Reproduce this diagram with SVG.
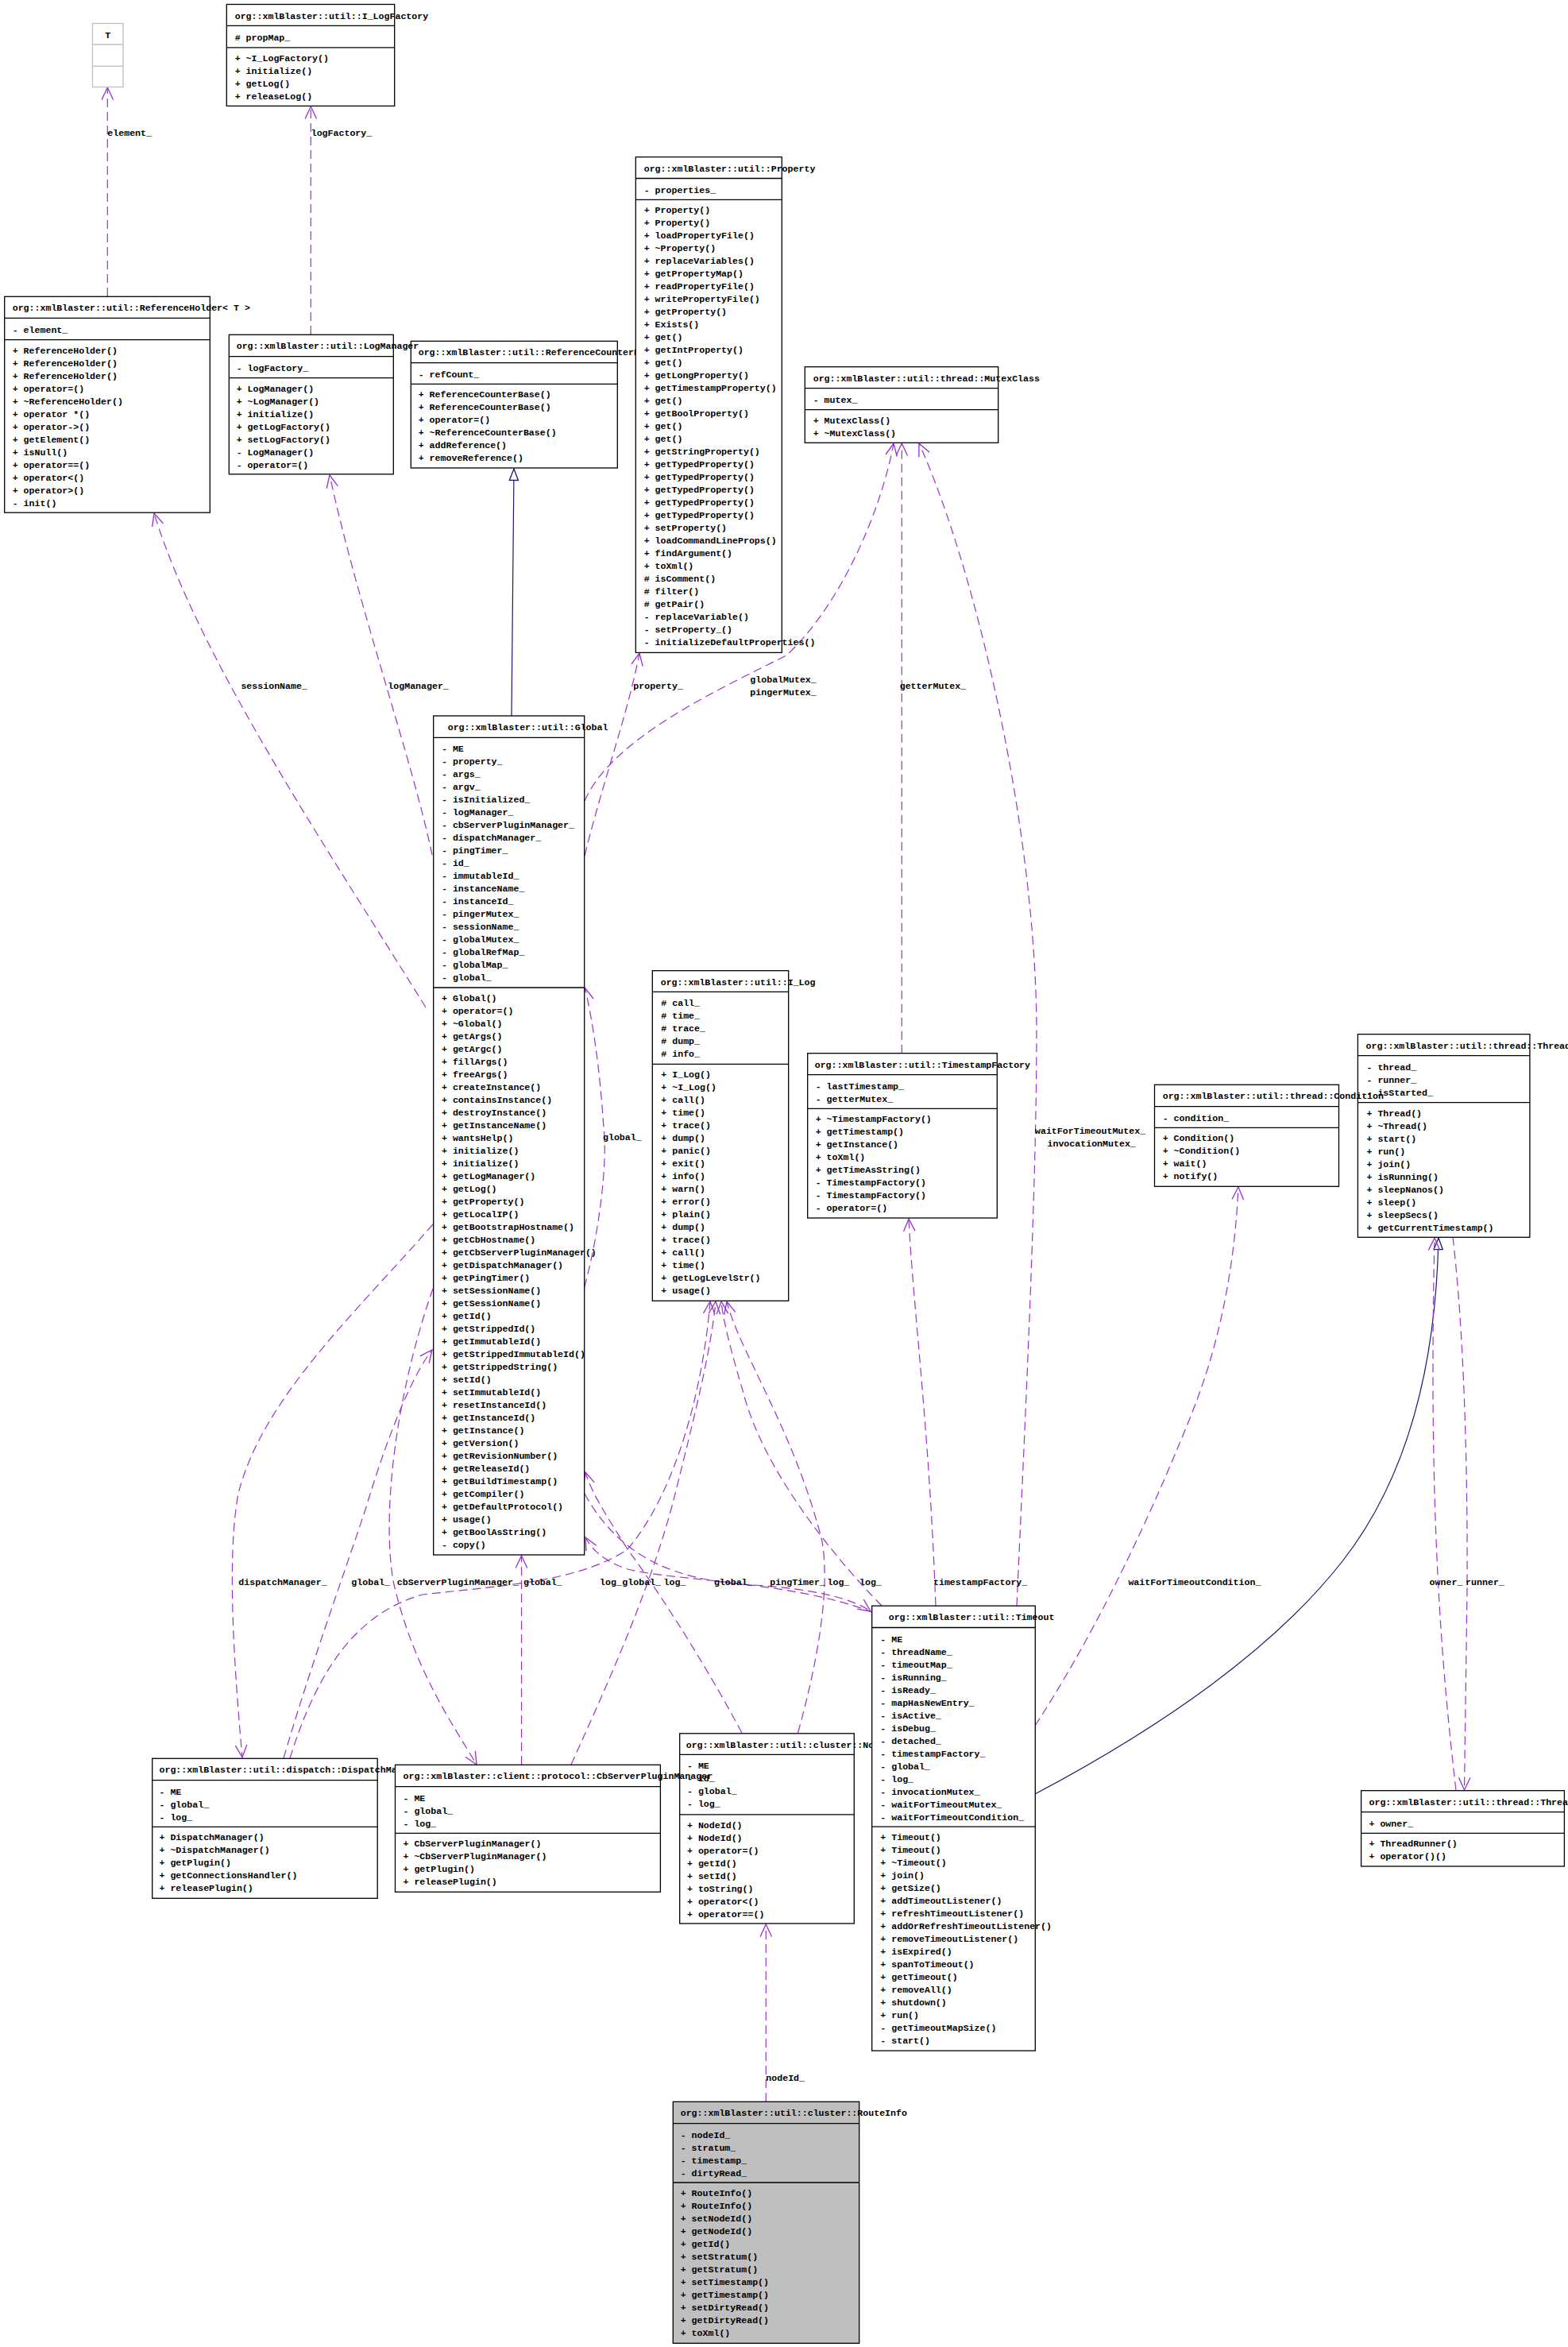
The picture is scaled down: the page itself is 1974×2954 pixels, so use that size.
<svg xmlns="http://www.w3.org/2000/svg" width="1974" height="2954" viewBox="0 0 1974 2954">
<style>
text{font-family:"Liberation Mono","DejaVu Sans Mono",monospace;font-size:11.6px;font-weight:bold;fill:#000}
.b{fill:#fff;stroke:#000;stroke-width:1.3}
.g{fill:#bfbfbf;stroke:#000;stroke-width:1.3}
.gb{fill:#fff;stroke:#bfbfbf;stroke-width:1.3}
.s{stroke:#000;stroke-width:1.3}
.sg{stroke:#bfbfbf;stroke-width:1.3}
.e{fill:none;stroke:#9a32cd;stroke-width:1.2;stroke-dasharray:11,6;marker-end:url(#a)}
.n{fill:none;stroke:#191970;stroke-width:1.2;marker-end:url(#i)}
</style>
<defs>
<marker id="a" markerUnits="userSpaceOnUse" markerWidth="20" markerHeight="20" viewBox="-16 -8 18 16" refX="0" refY="0" orient="auto"><path d="M-14,-6.5 L0,0 L-14,6.5" fill="none" stroke="#9a32cd" stroke-width="1.2"/></marker>
<marker id="i" markerUnits="userSpaceOnUse" markerWidth="20" markerHeight="20" viewBox="-16 -8 18 16" refX="0" refY="0" orient="auto"><path d="M-13,-5 L0,0 L-13,5 Z" fill="#fff" stroke="#191970" stroke-width="1.2"/></marker>
</defs>
<rect width="1974" height="2954" fill="#fff"/>
<g id="connectors">
<path class="e" d="M135.3,373 L135.3,110"/>
<path class="e" d="M391.3,421 L391.3,134"/>
<path class="e" d="M536,1268 C420,1080 250,830 194,646"/>
<path class="e" d="M544,1076 C520,960 450,760 415,598"/>
<path class="n" d="M644,901 L647,590"/>
<path class="e" d="M736,1077 C760,980 790,900 805,822"/>
<path class="e" d="M736,1008 C770,930 900,870 990,825 C1060,760 1110,640 1125,558"/>
<path class="e" d="M1135.3,1325.7 L1135.3,558"/>
<path class="e" d="M1280,2021 C1290,1800 1305,1500 1305,1300 C1305,1050 1230,720 1157,558"/>
<path class="e" d="M735.7,1620 C755,1550 765,1460 760,1420 C755,1340 745,1280 736.5,1243.5"/>
<path class="e" d="M1178,2021 C1170,1800 1150,1650 1144,1534"/>
<path class="n" d="M1303,2258 C1450,2180 1600,2080 1690,1965 C1780,1850 1808,1700 1811,1558"/>
<path class="e" d="M1303,2172 C1370,2070 1440,1930 1500,1780 C1540,1680 1555,1580 1559,1494"/>
<path class="e" d="M1833,2253 C1815,2100 1798,1900 1806,1558"/>
<path class="e" d="M1829,1557 C1840,1650 1848,1800 1847,2000 L1843.5,2253"/>
<path class="e" d="M964.3,2645 L964.3,2422"/>
<path class="e" d="M545,1541 C450,1650 330,1760 300,1880 C285,1960 295,2100 305,2212"/>
<path class="e" d="M357,2213 C390,2100 430,1990 460,1900 C490,1800 520,1730 544,1699"/>
<path class="e" d="M365,2213 C400,2100 450,2030 532,2007 C640,1995 730,1990 790,1950 C850,1880 885,1750 894,1638"/>
<path class="e" d="M545,1622 C500,1750 480,1900 495,1990 C520,2100 570,2170 600,2221"/>
<path class="e" d="M656.5,2221 L656.5,1958"/>
<path class="e" d="M719,2221 C760,2130 820,2000 850,1880 C875,1780 895,1700 901,1638"/>
<path class="e" d="M934,2181 C880,2080 820,1990 790,1950 C765,1910 745,1880 737,1853"/>
<path class="e" d="M1004.5,2181 C1030,2090 1045,2000 1035,1940 C1000,1800 930,1700 915,1638"/>
<path class="e" d="M1100,2030 C1000,1990 850,1990 790,1975 C760,1965 745,1950 737,1935"/>
<path class="e" d="M1110,2021 C1050,1960 960,1850 935,1750 C920,1700 910,1660 908,1638"/>
<path class="e" d="M736,1880 C780,1960 850,1990 950,1995 C1020,2000 1070,2010 1096,2028"/>
<text x="135.3" y="171">element_</text>
<text x="391.7" y="171">logFactory_</text>
<text x="303.4" y="867">sessionName_</text>
<text x="488.3" y="867">logManager_</text>
<text x="797.3" y="867">property_</text>
<text x="944.3" y="859">globalMutex_</text>
<text x="944.3" y="875">pingerMutex_</text>
<text x="1132.7" y="867">getterMutex_</text>
<text x="1303" y="1427">waitForTimeoutMutex_</text>
<text x="1318.5" y="1443">invocationMutex_</text>
<text x="759" y="1435">global_</text>
<text x="300.3" y="1995">dispatchManager_</text>
<text x="442.3" y="1995">global_</text>
<text x="499.8" y="1995">cbServerPluginManager_</text>
<text x="659" y="1995">global_</text>
<text x="755" y="1995">log_</text>
<text x="783.3" y="1995">global_</text>
<text x="835.5" y="1995">log_</text>
<text x="898.9" y="1995">global_</text>
<text x="969.3" y="1995">pingTimer_</text>
<text x="1041.5" y="1995">log_</text>
<text x="1082" y="1995">log_</text>
<text x="1175" y="1995">timestampFactory_</text>
<text x="1420.4" y="1995">waitForTimeoutCondition_</text>
<text x="1799.6" y="1995">owner_</text>
<text x="1845.1" y="1995">runner_</text>
<text x="964.3" y="2619">nodeId_</text>
</g>
<g id="T">
<rect class="gb" x="116.5" y="29.5" width="38.5" height="80"/>
<line class="sg" x1="116.5" y1="56" x2="155" y2="56"/><line class="sg" x1="116.5" y1="83.3" x2="155" y2="83.3"/>
<text x="135.7" y="47.8" text-anchor="middle">T</text>
</g>
<g id="I_LogFactory">
<rect class="b" x="285.3" y="5.5" width="211.4" height="127.9"/>
<line class="s" x1="285.3" y1="32.4" x2="496.7" y2="32.4"/><line class="s" x1="285.3" y1="59.8" x2="496.7" y2="59.8"/>
<text x="295.7" y="23.5">org::xmlBlaster::util::I_LogFactory</text>
<text x="295.7" y="50.6">#&#160;propMap_</text>
<text x="295.7" y="76.8">+ ~I_LogFactory()<tspan x="295.7" dy="16">+ initialize()</tspan><tspan x="295.7" dy="16">+ getLog()</tspan><tspan x="295.7" dy="16">+ releaseLog()</tspan></text>
</g>
<g id="ReferenceHolder">
<rect class="b" x="5.7" y="373.3" width="258.6" height="271.9"/>
<line class="s" x1="5.7" y1="400.3" x2="264.3" y2="400.3"/><line class="s" x1="5.7" y1="427.6" x2="264.3" y2="427.6"/>
<text x="15.7" y="391.3">org::xmlBlaster::util::ReferenceHolder&lt; T &gt;</text>
<text x="15.7" y="418.6">- element_</text>
<text x="15.7" y="444.6">+ ReferenceHolder()<tspan x="15.7" dy="16">+ ReferenceHolder()</tspan><tspan x="15.7" dy="16">+ ReferenceHolder()</tspan><tspan x="15.7" dy="16">+ operator=()</tspan><tspan x="15.7" dy="16">+ ~ReferenceHolder()</tspan><tspan x="15.7" dy="16">+ operator *()</tspan><tspan x="15.7" dy="16">+ operator-&gt;()</tspan><tspan x="15.7" dy="16">+ getElement()</tspan><tspan x="15.7" dy="16">+ isNull()</tspan><tspan x="15.7" dy="16">+ operator==()</tspan><tspan x="15.7" dy="16">+ operator&lt;()</tspan><tspan x="15.7" dy="16">+ operator&gt;()</tspan><tspan x="15.7" dy="16">- init()</tspan></text>
</g>
<g id="ReferenceCounterBase">
<rect class="b" x="517.3" y="429.4" width="260" height="159.6"/>
<line class="s" x1="517.3" y1="456.7" x2="777.3" y2="456.7"/><line class="s" x1="517.3" y1="483.3" x2="777.3" y2="483.3"/>
<text x="526.7" y="447.4">org::xmlBlaster::util::ReferenceCounterBase</text>
<text x="526.7" y="474.7">- refCount_</text>
<text x="526.7" y="500.3">+ ReferenceCounterBase()<tspan x="526.7" dy="16">+ ReferenceCounterBase()</tspan><tspan x="526.7" dy="16">+ operator=()</tspan><tspan x="526.7" dy="16">+ ~ReferenceCounterBase()</tspan><tspan x="526.7" dy="16">+ addReference()</tspan><tspan x="526.7" dy="16">+ removeReference()</tspan></text>
</g>
<g id="LogManager">
<rect class="b" x="288.3" y="421.3" width="207" height="175.5"/>
<line class="s" x1="288.3" y1="448.7" x2="495.3" y2="448.7"/><line class="s" x1="288.3" y1="475.6" x2="495.3" y2="475.6"/>
<text x="297.7" y="439.3">org::xmlBlaster::util::LogManager</text>
<text x="297.7" y="466.9">- logFactory_</text>
<text x="297.7" y="492.6">+ LogManager()<tspan x="297.7" dy="16">+ ~LogManager()</tspan><tspan x="297.7" dy="16">+ initialize()</tspan><tspan x="297.7" dy="16">+ getLogFactory()</tspan><tspan x="297.7" dy="16">+ setLogFactory()</tspan><tspan x="297.7" dy="16">- LogManager()</tspan><tspan x="297.7" dy="16">- operator=()</tspan></text>
</g>
<g id="Property">
<rect class="b" x="800.3" y="197.6" width="184" height="623.8"/>
<line class="s" x1="800.3" y1="224.5" x2="984.3" y2="224.5"/><line class="s" x1="800.3" y1="251.4" x2="984.3" y2="251.4"/>
<text x="810.7" y="215.6">org::xmlBlaster::util::Property</text>
<text x="810.7" y="242.7">- properties_</text>
<text x="810.7" y="268.4">+ Property()<tspan x="810.7" dy="16">+ Property()</tspan><tspan x="810.7" dy="16">+ loadPropertyFile()</tspan><tspan x="810.7" dy="16">+ ~Property()</tspan><tspan x="810.7" dy="16">+ replaceVariables()</tspan><tspan x="810.7" dy="16">+ getPropertyMap()</tspan><tspan x="810.7" dy="16">+ readPropertyFile()</tspan><tspan x="810.7" dy="16">+ writePropertyFile()</tspan><tspan x="810.7" dy="16">+ getProperty()</tspan><tspan x="810.7" dy="16">+ Exists()</tspan><tspan x="810.7" dy="16">+ get()</tspan><tspan x="810.7" dy="16">+ getIntProperty()</tspan><tspan x="810.7" dy="16">+ get()</tspan><tspan x="810.7" dy="16">+ getLongProperty()</tspan><tspan x="810.7" dy="16">+ getTimestampProperty()</tspan><tspan x="810.7" dy="16">+ get()</tspan><tspan x="810.7" dy="16">+ getBoolProperty()</tspan><tspan x="810.7" dy="16">+ get()</tspan><tspan x="810.7" dy="16">+ get()</tspan><tspan x="810.7" dy="16">+ getStringProperty()</tspan><tspan x="810.7" dy="16">+ getTypedProperty()</tspan><tspan x="810.7" dy="16">+ getTypedProperty()</tspan><tspan x="810.7" dy="16">+ getTypedProperty()</tspan><tspan x="810.7" dy="16">+ getTypedProperty()</tspan><tspan x="810.7" dy="16">+ getTypedProperty()</tspan><tspan x="810.7" dy="16">+ setProperty()</tspan><tspan x="810.7" dy="16">+ loadCommandLineProps()</tspan><tspan x="810.7" dy="16">+ findArgument()</tspan><tspan x="810.7" dy="16">+ toXml()</tspan><tspan x="810.7" dy="16"># isComment()</tspan><tspan x="810.7" dy="16"># filter()</tspan><tspan x="810.7" dy="16"># getPair()</tspan><tspan x="810.7" dy="16">- replaceVariable()</tspan><tspan x="810.7" dy="16">- setProperty_()</tspan><tspan x="810.7" dy="16">- initializeDefaultProperties()</tspan></text>
</g>
<g id="MutexClass">
<rect class="b" x="1013.3" y="461.7" width="243.4" height="95.6"/>
<line class="s" x1="1013.3" y1="488.7" x2="1256.7" y2="488.7"/><line class="s" x1="1013.3" y1="515.7" x2="1256.7" y2="515.7"/>
<text x="1023.7" y="479.7">org::xmlBlaster::util::thread::MutexClass</text>
<text x="1023.7" y="506.9">- mutex_</text>
<text x="1023.7" y="532.7">+ MutexClass()<tspan x="1023.7" dy="16">+ ~MutexClass()</tspan></text>
</g>
<g id="Global">
<rect class="b" x="545.7" y="901" width="190" height="1056"/>
<line class="s" x1="545.7" y1="928.3" x2="735.7" y2="928.3"/><line class="s" x1="545.7" y1="1243" x2="735.7" y2="1243"/>
<text x="563.7" y="919">org::xmlBlaster::util::Global</text>
<text x="556" y="946.3">- ME<tspan x="556" dy="16">- property_</tspan><tspan x="556" dy="16">- args_</tspan><tspan x="556" dy="16">- argv_</tspan><tspan x="556" dy="16">- isInitialized_</tspan><tspan x="556" dy="16">- logManager_</tspan><tspan x="556" dy="16">- cbServerPluginManager_</tspan><tspan x="556" dy="16">- dispatchManager_</tspan><tspan x="556" dy="16">- pingTimer_</tspan><tspan x="556" dy="16">- id_</tspan><tspan x="556" dy="16">- immutableId_</tspan><tspan x="556" dy="16">- instanceName_</tspan><tspan x="556" dy="16">- instanceId_</tspan><tspan x="556" dy="16">- pingerMutex_</tspan><tspan x="556" dy="16">- sessionName_</tspan><tspan x="556" dy="16">- globalMutex_</tspan><tspan x="556" dy="16">- globalRefMap_</tspan><tspan x="556" dy="16">- globalMap_</tspan><tspan x="556" dy="16">- global_</tspan></text>
<text x="556" y="1260">+ Global()<tspan x="556" dy="16">+ operator=()</tspan><tspan x="556" dy="16">+ ~Global()</tspan><tspan x="556" dy="16">+ getArgs()</tspan><tspan x="556" dy="16">+ getArgc()</tspan><tspan x="556" dy="16">+ fillArgs()</tspan><tspan x="556" dy="16">+ freeArgs()</tspan><tspan x="556" dy="16">+ createInstance()</tspan><tspan x="556" dy="16">+ containsInstance()</tspan><tspan x="556" dy="16">+ destroyInstance()</tspan><tspan x="556" dy="16">+ getInstanceName()</tspan><tspan x="556" dy="16">+ wantsHelp()</tspan><tspan x="556" dy="16">+ initialize()</tspan><tspan x="556" dy="16">+ initialize()</tspan><tspan x="556" dy="16">+ getLogManager()</tspan><tspan x="556" dy="16">+ getLog()</tspan><tspan x="556" dy="16">+ getProperty()</tspan><tspan x="556" dy="16">+ getLocalIP()</tspan><tspan x="556" dy="16">+ getBootstrapHostname()</tspan><tspan x="556" dy="16">+ getCbHostname()</tspan><tspan x="556" dy="16">+ getCbServerPluginManager()</tspan><tspan x="556" dy="16">+ getDispatchManager()</tspan><tspan x="556" dy="16">+ getPingTimer()</tspan><tspan x="556" dy="16">+ setSessionName()</tspan><tspan x="556" dy="16">+ getSessionName()</tspan><tspan x="556" dy="16">+ getId()</tspan><tspan x="556" dy="16">+ getStrippedId()</tspan><tspan x="556" dy="16">+ getImmutableId()</tspan><tspan x="556" dy="16">+ getStrippedImmutableId()</tspan><tspan x="556" dy="16">+ getStrippedString()</tspan><tspan x="556" dy="16">+ setId()</tspan><tspan x="556" dy="16">+ setImmutableId()</tspan><tspan x="556" dy="16">+ resetInstanceId()</tspan><tspan x="556" dy="16">+ getInstanceId()</tspan><tspan x="556" dy="16">+ getInstance()</tspan><tspan x="556" dy="16">+ getVersion()</tspan><tspan x="556" dy="16">+ getRevisionNumber()</tspan><tspan x="556" dy="16">+ getReleaseId()</tspan><tspan x="556" dy="16">+ getBuildTimestamp()</tspan><tspan x="556" dy="16">+ getCompiler()</tspan><tspan x="556" dy="16">+ getDefaultProtocol()</tspan><tspan x="556" dy="16">+ usage()</tspan><tspan x="556" dy="16">+ getBoolAsString()</tspan><tspan x="556" dy="16">- copy()</tspan></text>
</g>
<g id="I_Log">
<rect class="b" x="821.3" y="1221.7" width="171.4" height="415.6"/>
<line class="s" x1="821.3" y1="1248.3" x2="992.7" y2="1248.3"/><line class="s" x1="821.3" y1="1339.3" x2="992.7" y2="1339.3"/>
<text x="831.7" y="1239.7">org::xmlBlaster::util::I_Log</text>
<text x="832.3" y="1266.3"># call_<tspan x="832.3" dy="16"># time_</tspan><tspan x="832.3" dy="16"># trace_</tspan><tspan x="832.3" dy="16"># dump_</tspan><tspan x="832.3" dy="16"># info_</tspan></text>
<text x="832.3" y="1356.3">+ I_Log()<tspan x="832.3" dy="16">+ ~I_Log()</tspan><tspan x="832.3" dy="16">+ call()</tspan><tspan x="832.3" dy="16">+ time()</tspan><tspan x="832.3" dy="16">+ trace()</tspan><tspan x="832.3" dy="16">+ dump()</tspan><tspan x="832.3" dy="16">+ panic()</tspan><tspan x="832.3" dy="16">+ exit()</tspan><tspan x="832.3" dy="16">+ info()</tspan><tspan x="832.3" dy="16">+ warn()</tspan><tspan x="832.3" dy="16">+ error()</tspan><tspan x="832.3" dy="16">+ plain()</tspan><tspan x="832.3" dy="16">+ dump()</tspan><tspan x="832.3" dy="16">+ trace()</tspan><tspan x="832.3" dy="16">+ call()</tspan><tspan x="832.3" dy="16">+ time()</tspan><tspan x="832.3" dy="16">+ getLogLevelStr()</tspan><tspan x="832.3" dy="16">+ usage()</tspan></text>
</g>
<g id="TimestampFactory">
<rect class="b" x="1016.7" y="1325.7" width="238.6" height="207.3"/>
<line class="s" x1="1016.7" y1="1352.7" x2="1255.3" y2="1352.7"/><line class="s" x1="1016.7" y1="1395.3" x2="1255.3" y2="1395.3"/>
<text x="1025.7" y="1343.7">org::xmlBlaster::util::TimestampFactory</text>
<text x="1026.7" y="1370.7">- lastTimestamp_<tspan x="1026.7" dy="16">- getterMutex_</tspan></text>
<text x="1026.7" y="1412.3">+ ~TimestampFactory()<tspan x="1026.7" dy="16">+ getTimestamp()</tspan><tspan x="1026.7" dy="16">+ getInstance()</tspan><tspan x="1026.7" dy="16">+ toXml()</tspan><tspan x="1026.7" dy="16">+ getTimeAsString()</tspan><tspan x="1026.7" dy="16">- TimestampFactory()</tspan><tspan x="1026.7" dy="16">- TimestampFactory()</tspan><tspan x="1026.7" dy="16">- operator=()</tspan></text>
</g>
<g id="Thread">
<rect class="b" x="1709.4" y="1301.7" width="216.5" height="255.6"/>
<line class="s" x1="1709.4" y1="1328.7" x2="1925.9" y2="1328.7"/><line class="s" x1="1709.4" y1="1387.7" x2="1925.9" y2="1387.7"/>
<text x="1719.6" y="1319.7">org::xmlBlaster::util::thread::Thread</text>
<text x="1720.5" y="1346.7">- thread_<tspan x="1720.5" dy="16">- runner_</tspan><tspan x="1720.5" dy="16">- isStarted_</tspan></text>
<text x="1720.5" y="1404.7">+ Thread()<tspan x="1720.5" dy="16">+ ~Thread()</tspan><tspan x="1720.5" dy="16">+ start()</tspan><tspan x="1720.5" dy="16">+ run()</tspan><tspan x="1720.5" dy="16">+ join()</tspan><tspan x="1720.5" dy="16">+ isRunning()</tspan><tspan x="1720.5" dy="16">+ sleepNanos()</tspan><tspan x="1720.5" dy="16">+ sleep()</tspan><tspan x="1720.5" dy="16">+ sleepSecs()</tspan><tspan x="1720.5" dy="16">+ getCurrentTimestamp()</tspan></text>
</g>
<g id="Condition">
<rect class="b" x="1453.5" y="1365.3" width="232" height="128"/>
<line class="s" x1="1453.5" y1="1392.7" x2="1685.5" y2="1392.7"/><line class="s" x1="1453.5" y1="1419.3" x2="1685.5" y2="1419.3"/>
<text x="1463.7" y="1383.3">org::xmlBlaster::util::thread::Condition</text>
<text x="1463.7" y="1410.7">- condition_</text>
<text x="1463.7" y="1436.3">+ Condition()<tspan x="1463.7" dy="16">+ ~Condition()</tspan><tspan x="1463.7" dy="16">+ wait()</tspan><tspan x="1463.7" dy="16">+ notify()</tspan></text>
</g>
<g id="DispatchManager">
<rect class="b" x="191.7" y="2213.3" width="283.5" height="176"/>
<line class="s" x1="191.7" y1="2240.7" x2="475.2" y2="2240.7"/><line class="s" x1="191.7" y1="2299.3" x2="475.2" y2="2299.3"/>
<text x="200.5" y="2231.3">org::xmlBlaster::util::dispatch::DispatchManager</text>
<text x="200.5" y="2258.7">- ME<tspan x="200.5" dy="16">- global_</tspan><tspan x="200.5" dy="16">- log_</tspan></text>
<text x="200.5" y="2316.3">+ DispatchManager()<tspan x="200.5" dy="16">+ ~DispatchManager()</tspan><tspan x="200.5" dy="16">+ getPlugin()</tspan><tspan x="200.5" dy="16">+ getConnectionsHandler()</tspan><tspan x="200.5" dy="16">+ releasePlugin()</tspan></text>
</g>
<g id="NodeId">
<rect class="b" x="855.7" y="2181.8" width="219.6" height="239.2"/>
<line class="s" x1="855.7" y1="2208.3" x2="1075.3" y2="2208.3"/><line class="s" x1="855.7" y1="2283.8" x2="1075.3" y2="2283.8"/>
<text x="863.7" y="2199.8">org::xmlBlaster::util::cluster::NodeId</text>
<text x="865" y="2226.3">- ME<tspan x="865" dy="16">- id_</tspan><tspan x="865" dy="16">- global_</tspan><tspan x="865" dy="16">- log_</tspan></text>
<text x="865" y="2300.8">+ NodeId()<tspan x="865" dy="16">+ NodeId()</tspan><tspan x="865" dy="16">+ operator=()</tspan><tspan x="865" dy="16">+ getId()</tspan><tspan x="865" dy="16">+ setId()</tspan><tspan x="865" dy="16">+ toString()</tspan><tspan x="865" dy="16">+ operator&lt;()</tspan><tspan x="865" dy="16">+ operator==()</tspan></text>
</g>
<g id="CbServerPluginManager">
<rect class="b" x="497.5" y="2221.3" width="333.9" height="160"/>
<line class="s" x1="497.5" y1="2248.7" x2="831.4" y2="2248.7"/><line class="s" x1="497.5" y1="2307.3" x2="831.4" y2="2307.3"/>
<text x="507.5" y="2239.3">org::xmlBlaster::client::protocol::CbServerPluginManager</text>
<text x="507.5" y="2266.7">- ME<tspan x="507.5" dy="16">- global_</tspan><tspan x="507.5" dy="16">- log_</tspan></text>
<text x="507.5" y="2324.3">+ CbServerPluginManager()<tspan x="507.5" dy="16">+ ~CbServerPluginManager()</tspan><tspan x="507.5" dy="16">+ getPlugin()</tspan><tspan x="507.5" dy="16">+ releasePlugin()</tspan></text>
</g>
<g id="Timeout">
<rect class="b" x="1097.7" y="2021.2" width="205.6" height="559.9"/>
<line class="s" x1="1097.7" y1="2048.5" x2="1303.3" y2="2048.5"/><line class="s" x1="1097.7" y1="2299.2" x2="1303.3" y2="2299.2"/>
<text x="1118.7" y="2039.2">org::xmlBlaster::util::Timeout</text>
<text x="1108.3" y="2066.5">- ME<tspan x="1108.3" dy="16">- threadName_</tspan><tspan x="1108.3" dy="16">- timeoutMap_</tspan><tspan x="1108.3" dy="16">- isRunning_</tspan><tspan x="1108.3" dy="16">- isReady_</tspan><tspan x="1108.3" dy="16">- mapHasNewEntry_</tspan><tspan x="1108.3" dy="16">- isActive_</tspan><tspan x="1108.3" dy="16">- isDebug_</tspan><tspan x="1108.3" dy="16">- detached_</tspan><tspan x="1108.3" dy="16">- timestampFactory_</tspan><tspan x="1108.3" dy="16">- global_</tspan><tspan x="1108.3" dy="16">- log_</tspan><tspan x="1108.3" dy="16">- invocationMutex_</tspan><tspan x="1108.3" dy="16">- waitForTimeoutMutex_</tspan><tspan x="1108.3" dy="16">- waitForTimeoutCondition_</tspan></text>
<text x="1108.3" y="2316.2">+ Timeout()<tspan x="1108.3" dy="16">+ Timeout()</tspan><tspan x="1108.3" dy="16">+ ~Timeout()</tspan><tspan x="1108.3" dy="16">+ join()</tspan><tspan x="1108.3" dy="16">+ getSize()</tspan><tspan x="1108.3" dy="16">+ addTimeoutListener()</tspan><tspan x="1108.3" dy="16">+ refreshTimeoutListener()</tspan><tspan x="1108.3" dy="16">+ addOrRefreshTimeoutListener()</tspan><tspan x="1108.3" dy="16">+ removeTimeoutListener()</tspan><tspan x="1108.3" dy="16">+ isExpired()</tspan><tspan x="1108.3" dy="16">+ spanToTimeout()</tspan><tspan x="1108.3" dy="16">+ getTimeout()</tspan><tspan x="1108.3" dy="16">+ removeAll()</tspan><tspan x="1108.3" dy="16">+ shutdown()</tspan><tspan x="1108.3" dy="16">+ run()</tspan><tspan x="1108.3" dy="16">- getTimeoutMapSize()</tspan><tspan x="1108.3" dy="16">- start()</tspan></text>
</g>
<g id="ThreadRunner">
<rect class="b" x="1713.6" y="2253.7" width="255.8" height="95.3"/>
<line class="s" x1="1713.6" y1="2280.7" x2="1969.4" y2="2280.7"/><line class="s" x1="1713.6" y1="2307.3" x2="1969.4" y2="2307.3"/>
<text x="1723.5" y="2271.7">org::xmlBlaster::util::thread::ThreadRunner</text>
<text x="1723.5" y="2298.7">+ owner_</text>
<text x="1723.5" y="2324.3">+ ThreadRunner()<tspan x="1723.5" dy="16">+ operator()()</tspan></text>
</g>
<g id="RouteInfo">
<rect class="g" x="847.3" y="2645.3" width="234.4" height="304"/>
<line class="s" x1="847.3" y1="2672.7" x2="1081.7" y2="2672.7"/><line class="s" x1="847.3" y1="2747" x2="1081.7" y2="2747"/>
<text x="856.7" y="2663.3">org::xmlBlaster::util::cluster::RouteInfo</text>
<text x="856.7" y="2690.7">- nodeId_<tspan x="856.7" dy="16">- stratum_</tspan><tspan x="856.7" dy="16">- timestamp_</tspan><tspan x="856.7" dy="16">- dirtyRead_</tspan></text>
<text x="856.7" y="2764">+ RouteInfo()<tspan x="856.7" dy="16">+ RouteInfo()</tspan><tspan x="856.7" dy="16">+ setNodeId()</tspan><tspan x="856.7" dy="16">+ getNodeId()</tspan><tspan x="856.7" dy="16">+ getId()</tspan><tspan x="856.7" dy="16">+ setStratum()</tspan><tspan x="856.7" dy="16">+ getStratum()</tspan><tspan x="856.7" dy="16">+ setTimestamp()</tspan><tspan x="856.7" dy="16">+ getTimestamp()</tspan><tspan x="856.7" dy="16">+ setDirtyRead()</tspan><tspan x="856.7" dy="16">+ getDirtyRead()</tspan><tspan x="856.7" dy="16">+ toXml()</tspan></text>
</g>
</svg>
